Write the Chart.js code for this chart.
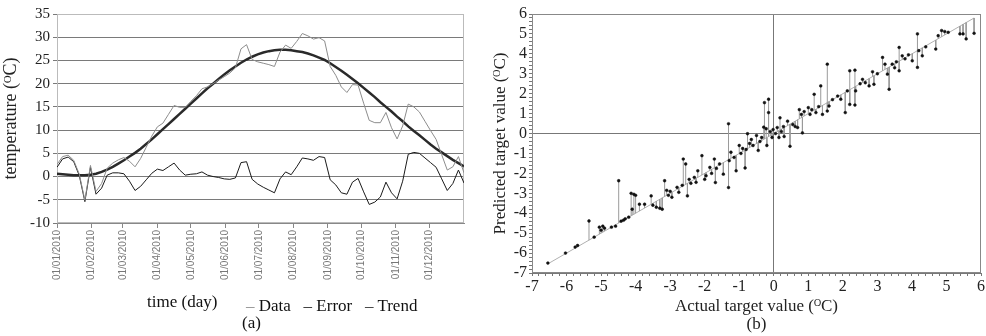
<!DOCTYPE html>
<html>
<head>
<meta charset="utf-8">
<script src="https://cdn.jsdelivr.net/npm/chart.js@4"></script>
<style>
  body { margin:0; background:#fff; width:986px; height:336px; overflow:hidden; position:relative;
         font-family:"Liberation Serif","Times New Roman",serif; }
  #chartA { position:absolute; left:0; top:0; }
  #chartB { position:absolute; left:490px; top:0; }
  .txt { position:absolute; font-size:17px; line-height:20px; color:#111; white-space:nowrap; }
</style>
</head>
<body>
<canvas id="chartA" width="470" height="336"></canvas>
<canvas id="chartB" width="496" height="336"></canvas>
<div class="txt" style="left:147px;top:292px">time (day)</div>
<div class="txt" id="legendA" style="left:246px;top:296px"></div>
<div class="txt" style="left:242px;top:313px">(a)</div>
<script>
// (a) daily temperature, sampled every 5 days
const days = [0,5,10,15,20,25,30,35,40,45,50,55,60,65,70,75,80,85,90,95,100,105,110,115,120,125,130,135,140,145,
  150,155,160,165,170,175,180,185,190,195,200,205,210,215,220,225,230,235,240,245,250,255,260,265,270,275,280,285,290,295,
  300,305,310,315,320,325,330,335,340,345,350,355,360,365];
const dataVals = [2.6,4.3,4.6,3.5,0.5,-5.1,2.4,-3.2,-1.5,1.8,2.9,3.6,4.1,3.3,2.1,3.9,6.3,8.7,10.7,11.5,
  13.4,15.3,14.9,14.9,16.2,17.4,18.9,19.3,20.0,20.8,21.5,22.3,23.4,27.5,28.4,25.2,24.7,24.4,24.1,23.7,
  26.8,28.3,27.6,29.1,30.8,30.3,29.6,29.9,29.2,23.7,21.8,19.3,18.1,19.8,19.7,15.8,12.1,11.6,11.6,13.8,
  10.5,8.1,10.9,15.6,15.0,13.9,11.9,9.9,8.0,4.7,1.4,2.1,4.3,0.8];
const errorVals = [2.0,3.8,4.2,3.2,0.2,-5.4,2.0,-3.8,-2.5,0.3,0.8,0.8,0.6,-1.0,-3.0,-2.1,-0.7,0.7,1.6,1.3,
  2.1,2.9,1.4,0.3,0.5,0.6,1.0,0.3,0.0,-0.2,-0.5,-0.6,-0.3,3.0,3.2,-0.6,-1.6,-2.3,-2.9,-3.5,
  -0.5,1.0,0.4,2.1,4.0,3.8,3.5,4.3,4.1,-0.7,-1.8,-3.5,-3.8,-1.2,-0.4,-3.3,-6.0,-5.5,-4.4,-1.2,
  -3.5,-4.8,-1.0,4.8,5.2,5.0,4.0,3.0,2.0,-0.5,-3.0,-1.5,1.4,-1.4];
const trendVals = [0.6,0.5,0.4,0.3,0.3,0.3,0.4,0.6,1.0,1.5,2.1,2.8,3.5,4.3,5.1,6.0,7.0,8.0,9.1,10.2,
  11.3,12.4,13.5,14.6,15.7,16.8,17.9,19.0,20.0,21.0,22.0,22.9,23.7,24.5,25.2,25.8,26.3,26.7,27.0,27.2,
  27.3,27.3,27.2,27.0,26.8,26.5,26.1,25.6,25.1,24.4,23.6,22.8,21.9,21.0,20.1,19.1,18.1,17.1,16.0,15.0,
  14.0,12.9,11.9,10.8,9.8,8.9,7.9,6.9,6.0,5.2,4.4,3.6,2.9,2.2];
const monthStart = [0,31,59,90,120,151,181,212,243,273,304,334];
const monthLabels = ['01/01/2010','01/02/2010','01/03/2010','01/04/2010','01/05/2010','01/06/2010',
  '01/07/2010','01/08/2010','01/09/2010','01/10/2010','01/11/2010','01/12/2010'];

// (b) actual vs predicted target
const actualVals = [-6.54,-6.03,-5.75,-5.68,-5.35,-5.2,-5.05,-5.0,-4.95,-4.9,-4.7,-4.58,-4.49,-4.42,-4.35,-4.3,-4.2,
  -4.13,-4.05,-4.0,-4.1,-3.89,-3.74,-3.55,-3.5,-3.4,-3.3,-3.23,-3.16,-3.1,-3.05,-3.0,-2.95,-2.8,-2.75,-2.65,
  -2.62,-2.55,-2.5,-2.45,-2.4,-2.3,-2.25,-2.2,-2.08,-2.0,-1.96,-1.85,-1.8,-1.72,-1.69,-1.66,-1.57,-1.46,
  -1.31,-1.31,-1.29,-1.24,-1.15,-1.09,-1.0,-0.95,-0.9,-0.83,-0.8,-0.76,-0.7,-0.65,-0.6,-0.5,-0.45,-0.4,-0.35,
  -0.29,-0.27,-0.22,-0.2,-0.15,-0.15,-0.1,-0.05,-0.02,
  0.05,0.1,0.15,0.18,0.22,0.28,0.3,0.4,0.47,0.55,0.62,0.69,0.74,0.8,0.83,0.88,1.0,1.05,1.1,1.17,1.22,1.3,
  1.36,1.41,1.55,1.55,1.6,1.7,1.85,1.94,2.07,2.13,2.2,2.2,2.35,2.35,2.37,2.5,2.57,2.65,2.76,2.86,2.9,3.0,
  3.15,3.22,3.29,3.34,3.43,3.5,3.55,3.63,3.63,3.72,3.8,3.9,4.01,4.16,4.16,4.2,4.3,4.4,4.69,4.76,4.86,4.95,
  5.05,5.39,5.48,5.57,5.8];
const predictedVals = [-6.5,-6.0,-5.7,-5.62,-4.39,-5.2,-4.7,-4.85,-4.65,-4.75,-4.7,-4.65,-2.37,-4.4,-4.35,-4.28,-4.2,
  -3.0,-3.05,-3.1,-3.8,-3.55,-3.55,-3.13,-3.6,-3.7,-3.75,-3.8,-2.37,-2.85,-3.1,-2.9,-3.2,-2.7,-2.95,-2.6,
  -1.28,-1.53,-3.13,-2.3,-2.5,-2.2,-2.45,-1.87,-1.11,-2.3,-2.12,-1.7,-2.0,-1.28,-2.46,-1.75,-1.53,-2.04,
  0.49,-2.71,-1.36,-0.94,-1.2,-1.87,-0.6,-1.0,-0.75,-1.73,-0.8,-0.01,-0.5,-0.3,-0.6,-0.1,-0.85,-0.4,-0.2,
  0.32,1.55,0.24,-0.6,1.72,1.05,0.1,-0.2,0.2,
  0.0,0.3,-0.2,0.79,0.1,0.35,-0.15,0.62,-0.64,0.45,0.35,0.3,1.2,0.96,0.03,1.1,1.3,0.96,1.2,1.97,1.05,1.35,
  2.39,0.96,3.48,1.13,1.38,1.7,1.88,1.72,1.05,2.14,3.15,1.46,3.18,1.43,2.14,2.5,2.72,2.55,2.39,3.1,2.47,3.0,
  3.82,3.48,2.98,2.22,3.48,3.3,3.6,4.32,3.15,3.9,3.75,3.95,3.65,5.0,3.32,4.16,3.9,4.35,4.24,4.91,5.17,5.12,
  5.08,5.0,5.0,4.75,5.03];
const fitEnds = [-6.5, 5.8];

const serif = '"Liberation Serif","Times New Roman",serif';
Chart.defaults.font.family = serif;
Chart.defaults.color = '#222';

const frame = {
  id: 'frame',
  beforeDatasetsDraw(chart, args, opts) {
    const { ctx, chartArea: a } = chart;
    ctx.save();
    ctx.strokeStyle = opts.color || '#999';
    ctx.lineWidth = 1;
    ctx.strokeRect(a.left + 0.5, a.top + 0.5, a.right - a.left - 1, a.bottom - a.top - 1);
    ctx.restore();
  }
};

const isInt = (v) => Math.abs(v - Math.round(v)) < 1e-6;

const chartA = new Chart(document.getElementById('chartA'), {
  type: 'line',
  data: {
    datasets: [
      { label: 'Data', data: days.map((d, i) => ({ x: d, y: dataVals[i] })), borderColor: '#8c8c8c', borderWidth: 1 },
      { label: 'Error', data: days.map((d, i) => ({ x: d, y: errorVals[i] })), borderColor: '#1a1a1a', borderWidth: 1 },
      { label: 'Trend', data: days.map((d, i) => ({ x: d, y: trendVals[i] })), borderColor: '#2a2a2a', borderWidth: 2.5 }
    ]
  },
  options: {
    responsive: false,
    animation: false,
    elements: { point: { radius: 0 }, line: { tension: 0 } },
    layout: { padding: { top: 14, right: 6, left: 0, bottom: 0 } },
    plugins: { legend: { display: false }, tooltip: { enabled: false }, frame: { color: '#bbb' } },
    scales: {
      x: {
        type: 'linear', min: 0, max: 365,
        afterBuildTicks: (s) => { s.ticks = monthStart.map((v) => ({ value: v })); },
        afterFit: (s) => { s.height = 113; },
        ticks: {
          autoSkip: false, minRotation: 90, maxRotation: 90, color: '#777', padding: 2,
          font: { family: '"Liberation Sans", Arial, sans-serif', size: 10 },
          callback: (v, i) => monthLabels[i]
        },
        grid: { drawOnChartArea: false, tickLength: 5, color: '#888' },
        border: { color: '#888' }
      },
      y: {
        min: -10, max: 35,
        afterFit: (s) => { s.width = 57; },
        ticks: { stepSize: 5, color: '#222', padding: 3, font: { size: 15 } },
        grid: { color: '#7a7a7a', tickLength: 4 },
        border: { color: '#999' },
        title: { display: true, text: 'temperature (ᴼC)', color: '#222', font: { size: 18 }, padding: { top: 0, bottom: 0 } }
      }
    }
  },
  plugins: [frame]
});

document.getElementById('legendA').innerHTML = chartA.data.datasets
  .map((ds) => `<span style="color:${ds.borderColor}">–</span> ${ds.label}`)
  .join('&nbsp;&nbsp;&nbsp;');

const chartB = new Chart(document.getElementById('chartB'), {
  type: 'scatter',
  data: {
    datasets: [
      { label: 'Predicted', data: actualVals.map((a, i) => ({ x: a, y: predictedVals[i] })),
        pointRadius: 1.4, backgroundColor: '#111', borderColor: '#111', borderWidth: 0.5, showLine: false },
      { label: 'Error', data: actualVals.flatMap((a, i) => [{ x: a, y: a }, { x: a, y: predictedVals[i] }, { x: a, y: null }]),
        showLine: true, spanGaps: false, pointRadius: 0, borderColor: '#9a9a9a', borderWidth: 1 },
      { label: 'Target', data: fitEnds.map((v) => ({ x: v, y: v })),
        showLine: true, pointRadius: 0, borderColor: '#b0b0b0', borderWidth: 1 }
    ]
  },
  options: {
    responsive: false,
    animation: false,
    layout: { padding: { top: 14, right: 3, left: 0, bottom: 0 } },
    plugins: { legend: { display: false }, tooltip: { enabled: false }, frame: { color: '#888' } },
    scales: {
      x: {
        type: 'linear', min: -7, max: 6,
        afterFit: (s) => { s.height = 63; },
        ticks: { stepSize: 0.2, autoSkip: false, maxRotation: 0, color: '#222', padding: 1, font: { size: 16 },
          callback: (v) => (isInt(v) ? String(Math.round(v)) : '') },
        grid: { color: (c) => (c.tick && Math.abs(c.tick.value) < 1e-9 ? '#777' : 'rgba(0,0,0,0)'), tickColor: '#777', tickLength: 3 },
        border: { color: '#777' },
        title: { display: true, text: ['Actual target value (ᴼC)', '(b)'], color: '#222', font: { size: 17, lineHeight: 1.05 }, padding: { top: 0, bottom: 3 } }
      },
      y: {
        min: -7, max: 6,
        afterFit: (s) => { s.width = 42; },
        ticks: { stepSize: 0.2, autoSkip: false, color: '#222', padding: 2, font: { size: 16 },
          callback: (v) => (isInt(v) ? String(Math.round(v)) : '') },
        grid: { color: (c) => (c.tick && Math.abs(c.tick.value) < 1e-9 ? '#777' : 'rgba(0,0,0,0)'), tickColor: '#777', tickLength: 3 },
        border: { color: '#777' },
        title: { display: true, text: 'Predicted target value (ᴼC)', color: '#222', font: { size: 17 }, padding: { top: 0, bottom: 0 } }
      }
    }
  },
  plugins: [frame]
});
</script>
</body>
</html>
